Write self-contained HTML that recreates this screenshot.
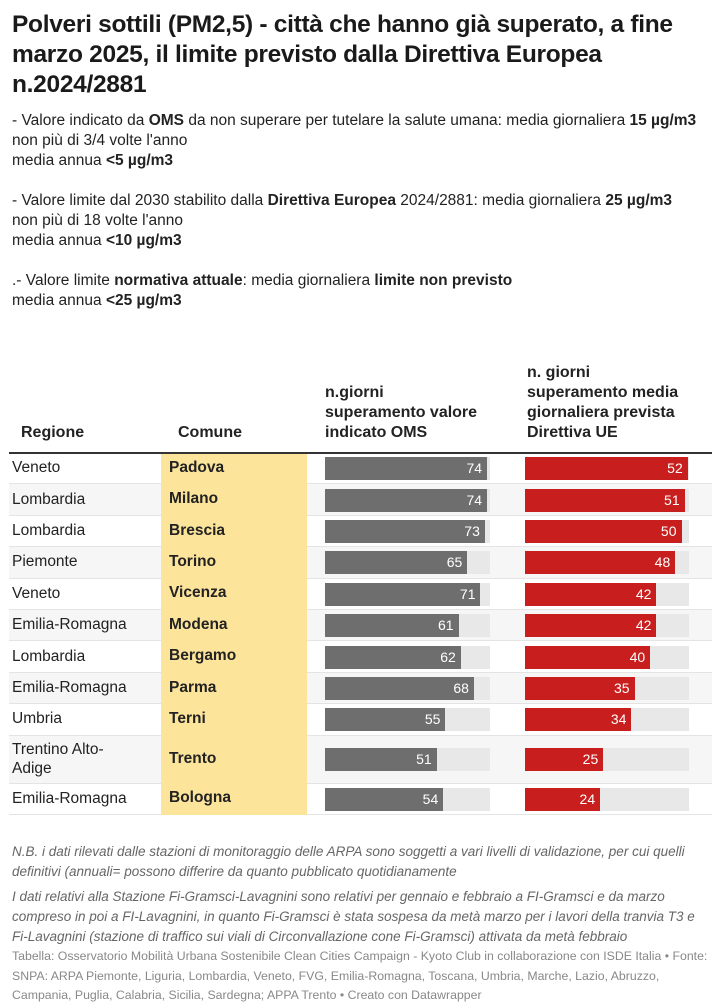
<!DOCTYPE html>
<html><head><meta charset="utf-8"><style>
body{margin:0;background:#fff;font-family:"Liberation Sans",sans-serif;color:#222;width:719px;height:1000px;overflow:hidden;position:relative}
h1{position:absolute;left:12px;top:10px;margin:0;font-size:24.5px;line-height:30px;font-weight:bold;width:700px;color:#1a1a1a;letter-spacing:-0.3px}
.desc{position:absolute;left:12px;top:111px;font-size:15.5px;line-height:20px;width:690px;color:#222}
.desc p{margin:0 0 20px 0}
.hdr{position:absolute;font-weight:bold;font-size:16px;line-height:20px;color:#222}
.rule{position:absolute;left:9px;width:703px;top:452px;height:2px;background:#333}
.row{position:absolute;left:9px;width:703px;border-bottom:1px solid #e4e4e4}
.reg{position:absolute;left:12px;font-size:15.5px;line-height:19px}
.com{position:absolute;left:169px;font-size:15.5px;font-weight:bold}
.track{position:absolute;height:23px;background:#e8e8e8}
.bar{position:absolute;height:23px;color:#fff;font-size:14px;text-align:right;line-height:23px;box-sizing:border-box;padding-right:5px}
.note{position:absolute;left:12px;font-size:13.5px;line-height:20px;font-style:italic;color:#666;width:700px}
.src{position:absolute;left:12px;font-size:12.3px;line-height:19.5px;color:#888;width:705px}
</style></head><body>
<h1>Polveri sottili (PM2,5) - città che hanno già superato, a fine marzo 2025, il limite previsto dalla Direttiva Europea n.2024/2881</h1>
<div class="desc">
<p>- Valore indicato da <b>OMS</b> da non superare per tutelare la salute umana: media giornaliera <b>15 µg/m3</b> non più di 3/4 volte l'anno<br>media annua <b>&lt;5 µg/m3</b></p>
<p>- Valore limite dal 2030 stabilito dalla <b>Direttiva Europea</b> 2024/2881: media giornaliera <b>25 µg/m3</b> non più di 18 volte l'anno<br>media annua <b>&lt;10 µg/m3</b></p>
<p>.- Valore limite <b>normativa attuale</b>: media giornaliera <b>limite non previsto</b><br>media annua <b>&lt;25 µg/m3</b></p>
</div>
<div class="hdr" style="left:21px;top:423px">Regione</div>
<div class="hdr" style="left:178px;top:423px">Comune</div>
<div class="hdr" style="left:325px;top:383px">n.giorni<br>superamento valore<br>indicato OMS</div>
<div class="hdr" style="left:527px;top:363px">n. giorni<br>superamento media<br>giornaliera prevista<br>Direttiva UE</div>
<div id="rows"></div>
<div class="rule"></div>
<div class="note" style="top:842px">N.B. i dati rilevati dalle stazioni di monitoraggio delle ARPA sono soggetti a vari livelli di validazione, per cui quelli definitivi (annuali= possono differire da quanto pubblicato quotidianamente</div>
<div class="note" style="top:887px">I dati relativi alla Stazione Fi-Gramsci-Lavagnini sono relativi per gennaio e febbraio a FI-Gramsci e da marzo compreso in poi a FI-Lavagnini, in quanto Fi-Gramsci è stata sospesa da metà marzo per i lavori della tranvia T3 e Fi-Lavagnini (stazione di traffico sui viali di Circonvallazione cone Fi-Gramsci) attivata da metà febbraio</div>
<div class="src" style="top:947px">Tabella: Osservatorio Mobilità Urbana Sostenibile Clean Cities Campaign - Kyoto Club in collaborazione con ISDE Italia • Fonte: SNPA: ARPA Piemonte, Liguria, Lombardia, Veneto, FVG, Emilia-Romagna, Toscana, Umbria, Marche, Lazio, Abruzzo, Campania, Puglia, Calabria, Sicilia, Sardegna; APPA Trento • Creato con Datawrapper</div>
<script>
var d=[["Veneto","Padova",74,52],["Lombardia","Milano",74,51],["Lombardia","Brescia",73,50],["Piemonte","Torino",65,48],["Veneto","Vicenza",71,42],["Emilia-Romagna","Modena",61,42],["Lombardia","Bergamo",62,40],["Emilia-Romagna","Parma",68,35],["Umbria","Terni",55,34],["Trentino Alto-<br>Adige","Trento",51,25],["Emilia-Romagna","Bologna",54,24]];
var h="",y=453;
d.forEach(function(r,i){
 var rh=i==9?48:31.4;
 var c=y+rh/2;
 if(i%2==1)h+='<div class="row" style="top:'+y+'px;height:'+(rh-1)+'px;background:#f6f6f6"></div>';
 else h+='<div class="row" style="top:'+y+'px;height:'+(rh-1)+'px"></div>';
 h+='<div style="position:absolute;left:161px;width:146px;top:'+y+'px;height:'+rh+'px;background:#fde49b"></div>';
 var lines=i==9?2:1;
 h+='<div class="reg" style="top:'+(c-lines*9.5-1)+'px">'+r[0]+'</div>';
 h+='<div class="com" style="top:'+(c-10)+'px">'+r[1]+'</div>';
 h+='<div class="track" style="left:325px;width:165px;top:'+(c-11.5)+'px"></div>';
 h+='<div class="bar" style="left:325px;width:'+(r[2]*2.19)+'px;top:'+(c-11.5)+'px;background:#6e6e6e">'+r[2]+'</div>';
 h+='<div class="track" style="left:525px;width:164px;top:'+(c-11.5)+'px"></div>';
 h+='<div class="bar" style="left:525px;width:'+(r[3]*3.13)+'px;top:'+(c-11.5)+'px;background:#c81e1e">'+r[3]+'</div>';
 y+=rh;
});
document.getElementById("rows").innerHTML=h;
</script>
</body></html>
